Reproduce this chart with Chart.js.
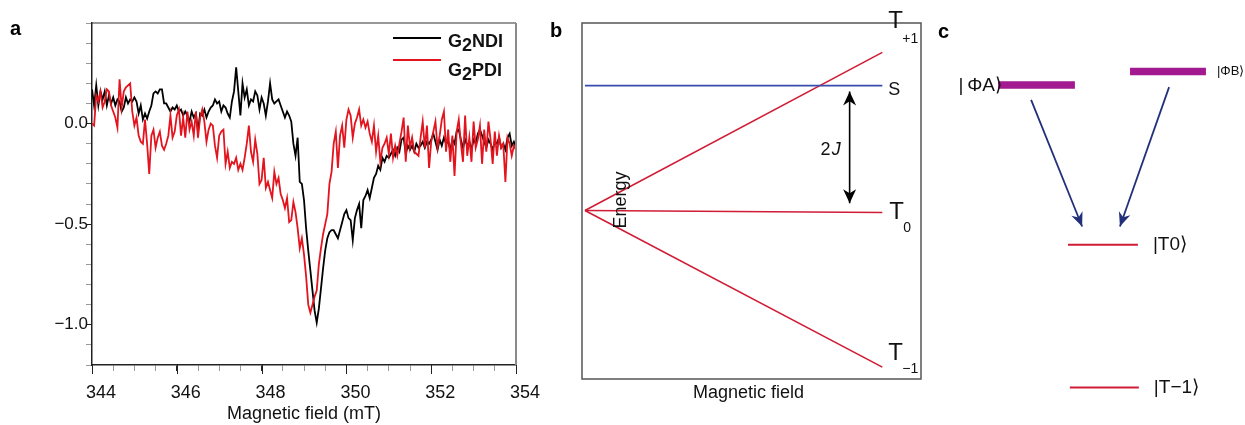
<!DOCTYPE html>
<html>
<head>
<meta charset="utf-8">
<title>EPR spectra and spin levels</title>
<script src="https://cdn.jsdelivr.net/npm/chart.js@4.4.1/dist/chart.umd.min.js"></script>
<style>
  html, body { margin: 0; padding: 0; background: #fff; }
  #wrap { position: relative; width: 1245px; height: 425px; overflow: hidden; }
  canvas { position: absolute; top: 0; }
  #chartA { left: 0; }
  #chartB { left: 540px; }
  #chartC { left: 930px; }
</style>
</head>
<body>
<div id="wrap">
  <canvas id="chartA" width="560" height="425"></canvas>
  <canvas id="chartB" width="390" height="425"></canvas>
  <canvas id="chartC" width="315" height="425"></canvas>
</div>
<script>
const FONT = "'Liberation Sans', Arial, sans-serif";

// ---- panel a : EPR spectra (field grid 344 .. 354 mT, 0.05 mT step)
const fieldStart = 344;
const fieldStep = 0.05;
const seriesNames = ['G2NDI', 'G2PDI'];

const ndiSignal = [
  0.17, 0.09, 0.19, 0.09, 0.16, 0.12, 0.16, 0.09, 0.14, 0.10, 0.13, 0.09, 0.12, 0.11, 0.06, 0.08, 0.13, 0.10, 0.12, 0.11,
  0.13, 0.11, 0.05, 0.09, 0.02, 0.05, 0.025, 0.06, 0.09, 0.15, 0.16, 0.15, 0.17, 0.17, 0.10, 0.10, 0.08, 0.06, 0.08, 0.07,
  0.09, 0.06, 0.07, 0.04, 0.06, 0.04, 0.01, 0.06, 0.03, 0.05, -0.04, 0.05, 0.04, 0.07, 0.03, 0.06, 0.08, 0.09, 0.12, 0.10,
  0.11, 0.06, 0.09, 0.08, 0.05, 0.03, 0.11, 0.16, 0.28, 0.16, 0.04, 0.20, 0.13, 0.17, 0.09, 0.12, 0.11, 0.16, 0.14, 0.07,
  0.13, 0.10, 0.04, 0.11, 0.20, 0.12, 0.10, 0.11, 0.12, 0.09, 0.06, 0.03, 0.06, 0.04, 0.01, -0.10, -0.16, -0.07, -0.29, -0.30,
  -0.38, -0.52, -0.63, -0.73, -0.83, -0.93, -0.99, -0.92, -0.82, -0.72, -0.63, -0.57, -0.54, -0.53, -0.53, -0.55, -0.57, -0.53, -0.49, -0.45,
  -0.43, -0.47, -0.48, -0.58, -0.47, -0.43, -0.40, -0.52, -0.38, -0.36, -0.33, -0.37, -0.32, -0.27, -0.25, -0.21, -0.23, -0.17, -0.19, -0.16,
  -0.17, -0.15, -0.13, -0.16, -0.12, -0.14, -0.08, -0.07, -0.15, -0.11, -0.13, -0.11, -0.14, -0.10, -0.12, -0.11, -0.09, -0.12, -0.09, -0.10,
  -0.08, -0.05, -0.09, -0.13, -0.08, -0.11, -0.07, -0.10, -0.09, -0.13, -0.08, -0.10, -0.04, -0.03, -0.08, -0.12, -0.08, -0.11, -0.09, -0.13,
  -0.08, -0.10, -0.05, -0.03, -0.06, -0.09, -0.12, -0.08, -0.10, -0.13, -0.09, -0.10, -0.07, -0.12, -0.10, -0.13, -0.07, -0.05, -0.11, -0.09,
  -0.12
];

const pdiSignal = [
  0.00, -0.01, 0.14, 0.11, 0.16, 0.08, 0.11, 0.17, 0.16, 0.09, 0.06, 0.03, -0.02, 0.22, 0.08, 0.16, 0.18, 0.19, 0.20, 0.06,
  -0.01, 0.03, -0.06, -0.09, -0.10, 0.02, -0.10, -0.25, -0.06, -0.03, -0.12, -0.07, -0.04, -0.11, -0.13, -0.10, -0.06, 0.04, -0.07, -0.04,
  0.04, 0.07, -0.06, 0.03, -0.07, 0.06, -0.03, 0.01, -0.06, 0.06, -0.07, 0.03, 0.07, 0.01, -0.09, -0.03, 0.00, -0.01, -0.11, -0.17,
  -0.06, -0.04, -0.03, -0.20, -0.14, -0.22, -0.19, -0.20, -0.17, -0.23, -0.20, -0.23, -0.17, -0.10, -0.01, -0.14, -0.19, -0.08, -0.15, -0.30,
  -0.28, -0.17, -0.32, -0.29, -0.33, -0.37, -0.24, -0.30, -0.27, -0.35, -0.38, -0.42, -0.37, -0.49, -0.48, -0.39, -0.44, -0.52, -0.62, -0.57,
  -0.65, -0.76, -0.90, -0.94, -0.90, -0.86, -0.83, -0.70, -0.62, -0.55, -0.50, -0.45, -0.30, -0.24, -0.10, -0.04, -0.22, -0.06, -0.01, -0.12,
  0.02, 0.07, 0.04, -0.07, 0.00, 0.03, 0.07, -0.01, 0.02, -0.02, 0.01, -0.05, -0.09, -0.01, -0.14, -0.06, -0.19, -0.12, -0.10, -0.07,
  -0.15, -0.05, -0.17, -0.11, -0.16, -0.10, -0.04, 0.03, -0.19, -0.01, -0.12, -0.07, -0.14, -0.15, -0.16, -0.07, 0.01, -0.12, -0.01, -0.22,
  -0.09, -0.04, 0.01, -0.12, -0.06, 0.02, 0.06, -0.14, -0.03, -0.19, -0.06, -0.26, -0.04, 0.02, -0.10, -0.19, 0.04, -0.16, -0.07, -0.19,
  0.01, -0.12, -0.08, -0.01, -0.20, -0.03, -0.14, 0.01, -0.08, -0.20, -0.04, -0.16, -0.06, -0.12, -0.10, -0.29, -0.07, -0.10, -0.16, -0.11,
  -0.13
];

// ---- panel b : Zeeman levels vs field (field 0..1, energy in units of the T+1 end)
const levelField = [0, 1];
const levelTplus = [0, 1.0];
const levelT0 = [0, -0.012];
const levelTminus = [0, -0.99];
const levelS = [0.79, 0.79];
const gapField = [0.89, 0.89];
const gapEnergy = [0.753, 0.047];

// ---- panel c : state diagram (arbitrary 0..100 units)
const stateNames = ['|\u2009\u03A6A\u27E9', '|\u03A6B\u27E9', '|T0\u27E9', '|T\u22121\u27E9'];
const stateEnergy = [80, 83.2, 42.4, 8.8];
const stateFrom = [21.6, 63.5, 43.8, 44.4];
const stateTo = [46, 87.6, 66, 66.3];
const hopStartX = [32.1, 75.9];
const hopStartY = [76.5, 79.5];
const hopEndX = [48.3, 60.3];
const hopEndY = [46.7, 46.7];

const RED_A = '#e3141e';
const RED_B = '#d01c35';
const BLUE_B = '#3a4cae';
const MAGENTA = '#a3198f';
const NAVY = '#22307a';

function toPoints(arr){
  return arr.map((v, i) => ({ x: +(fieldStart + i * fieldStep).toFixed(2), y: v }));
}

function pairPoints(xs, ys){
  return xs.map((x, i) => ({ x: x, y: ys[i] }));
}

// arrow head with a small notch, tip at "to"
function drawHead(ctx, from, to, len, half){
  const ang = Math.atan2(to.y - from.y, to.x - from.x);
  const c = Math.cos(ang), s = Math.sin(ang);
  const bx = to.x - len * c, by = to.y - len * s;
  ctx.beginPath();
  ctx.moveTo(to.x, to.y);
  ctx.lineTo(bx + half * s, by - half * c);
  ctx.lineTo(to.x - len * 0.7 * c, to.y - len * 0.7 * s);
  ctx.lineTo(bx - half * s, by + half * c);
  ctx.closePath();
  ctx.fill();
}

const arrowHeads = {
  id: 'arrowHeads',
  afterDatasetsDraw(chart){
    const ctx = chart.ctx;
    chart.data.datasets.forEach((ds, i) => {
      if (!ds.arrow) return;
      const pts = chart.getDatasetMeta(i).data;
      const a = pts[0], b = pts[pts.length - 1];
      ctx.save();
      ctx.fillStyle = ds.borderColor;
      drawHead(ctx, a, b, ds.arrow.len, ds.arrow.half);
      if (ds.arrow.both) drawHead(ctx, b, a, ds.arrow.len, ds.arrow.half);
      ctx.restore();
    });
  }
};

// text with one lowered digit, e.g. G2NDI
function drawSubName(ctx, name, x, y, drop){
  const m = name.match(/^(\D+)(\d)(.*)$/);
  const parts = m ? [[m[1], 0], [m[2], drop], [m[3], 0]] : [[name, 0]];
  let cx = x;
  parts.forEach(([t, dy]) => {
    ctx.fillText(t, cx, y + dy);
    cx += ctx.measureText(t).width;
  });
}

const panelAExtras = {
  id: 'panelAExtras',
  afterDraw(chart){
    const { ctx, chartArea: a } = chart;
    ctx.save();
    // top and right frame
    ctx.strokeStyle = '#333';
    ctx.lineWidth = 1.2;
    ctx.beginPath();
    ctx.moveTo(a.left, a.top);
    ctx.lineTo(a.right, a.top);
    ctx.stroke();
    ctx.strokeStyle = '#8a8a8a';
    ctx.lineWidth = 2;
    ctx.beginPath();
    ctx.moveTo(a.right, a.top);
    ctx.lineTo(a.right, a.bottom);
    ctx.stroke();

    // labelled field ticks are a bit longer
    const xs = chart.scales.x;
    ctx.strokeStyle = '#222';
    ctx.lineWidth = 1;
    xs.ticks.forEach((t, i) => {
      if (t.label === '') return;
      const px = Math.round(xs.getPixelForTick(i)) + 0.5;
      ctx.beginPath();
      ctx.moveTo(px, a.bottom);
      ctx.lineTo(px, a.bottom + 9);
      ctx.stroke();
    });

    ctx.fillStyle = '#000';
    ctx.textAlign = 'left';
    ctx.textBaseline = 'alphabetic';
    ctx.font = 'bold 20px ' + FONT;
    ctx.fillText('a', 10, 35);

    // legend
    const rows = [
      { name: seriesNames[0], color: '#000', lineY: 38, textY: 47 },
      { name: seriesNames[1], color: RED_A, lineY: 60, textY: 76 }
    ];
    ctx.font = 'bold 18px ' + FONT;
    rows.forEach(r => {
      ctx.strokeStyle = r.color;
      ctx.lineWidth = 1.8;
      ctx.beginPath();
      ctx.moveTo(a.right - 123, r.lineY);
      ctx.lineTo(a.right - 75, r.lineY);
      ctx.stroke();
      ctx.fillStyle = '#111';
      drawSubName(ctx, r.name, a.right - 68, r.textY, 4);
    });
    ctx.restore();
  }
};

const onTick = (ctx) => (ctx.tick && ctx.tick.label !== '' ? '#222' : '#999');

new Chart(document.getElementById('chartA'), {
  type: 'line',
  data: {
    datasets: [
      { label: seriesNames[1], data: toPoints(pdiSignal), borderColor: RED_A, borderWidth: 1.8, pointRadius: 0, tension: 0 },
      { label: seriesNames[0], data: toPoints(ndiSignal), borderColor: '#000', borderWidth: 1.8, pointRadius: 0, tension: 0 }
    ]
  },
  options: {
    responsive: false,
    animation: false,
    layout: { padding: { top: 23, right: 44, left: 0, bottom: 0 } },
    plugins: { legend: { display: false }, tooltip: { enabled: false } },
    scales: {
      x: {
        type: 'linear', min: 344, max: 354,
        afterFit: (s) => { s.height = 60; },
        ticks: {
          stepSize: 0.5, autoSkip: false, maxRotation: 0, labelOffset: 9, padding: 11,
          color: '#111', font: { family: FONT, size: 18 },
          callback: (v) => {
            const r = Math.round(v * 10) / 10;
            return Math.abs(r % 2) < 1e-6 ? r.toFixed(0) : '';
          }
        },
        grid: { drawOnChartArea: false, tickLength: 6, color: onTick },
        border: { color: '#222', width: 1.5 },
        title: { display: true, text: 'Magnetic field (mT)', padding: 0, color: '#111', font: { family: FONT, size: 18 } }
      },
      y: {
        min: -1.2, max: 0.5,
        afterFit: (s) => { s.width = 92; },
        ticks: {
          stepSize: 0.1, autoSkip: false, padding: -2,
          color: '#111', font: { family: FONT, size: 17 },
          callback: (v) => {
            const r = Math.round(v * 10) / 10;
            if (r > 0.01 || Math.abs(r * 2 - Math.round(r * 2)) > 1e-6) return '';
            return r.toFixed(1).replace('-', '\u2212');
          }
        },
        grid: { drawOnChartArea: false, tickLength: 6, color: onTick },
        border: { color: '#222', width: 1.5 }
      }
    }
  },
  plugins: [panelAExtras]
});

// ---- panel b
const panelBExtras = {
  id: 'panelBExtras',
  beforeDatasetsDraw(chart){
    const { ctx, chartArea: a } = chart;
    ctx.save();
    ctx.strokeStyle = '#555';
    ctx.lineWidth = 1.5;
    ctx.strokeRect(a.left, a.top, a.right - a.left, a.bottom - a.top);
    ctx.restore();
  },
  afterDraw(chart){
    const { ctx, chartArea: a } = chart;
    const xs = chart.scales.x, ys = chart.scales.y;
    const xEnd = xs.getPixelForValue(levelField[1]);
    ctx.save();
    ctx.fillStyle = '#000';
    ctx.textAlign = 'left';
    ctx.textBaseline = 'alphabetic';
    ctx.font = 'bold 20px ' + FONT;
    ctx.fillText('b', 10, 37);

    ctx.fillStyle = '#111';
    const yTp = ys.getPixelForValue(levelTplus[1]);
    const yS = ys.getPixelForValue(levelS[1]);
    const yT0 = ys.getPixelForValue(levelT0[1]);
    const yTm = ys.getPixelForValue(levelTminus[1]);

    ctx.font = '24px ' + FONT;
    ctx.fillText('T', xEnd + 6, yTp - 24);
    ctx.fillText('T', xEnd + 7, yT0 + 7);
    ctx.fillText('T', xEnd + 6, yTm - 7);
    ctx.font = '14px ' + FONT;
    ctx.fillText('+1', xEnd + 20, yTp - 9);
    ctx.fillText('0', xEnd + 21, yT0 + 20);
    ctx.fillText('\u22121', xEnd + 20, yTm + 6);
    ctx.font = '18px ' + FONT;
    ctx.fillText('S', xEnd + 6, yS + 9);

    // 2J next to the gap arrow
    const gx = xs.getPixelForValue(gapField[0]);
    const gy = (ys.getPixelForValue(gapEnergy[0]) + ys.getPixelForValue(gapEnergy[1])) / 2;
    ctx.textAlign = 'right';
    ctx.font = 'italic 18px ' + FONT;
    const jw = ctx.measureText('J').width;
    ctx.fillText('J', gx - 9, gy + 8);
    ctx.font = '18px ' + FONT;
    ctx.fillText('2', gx - 10 - jw, gy + 8);

    // axis captions
    ctx.textAlign = 'center';
    ctx.textBaseline = 'middle';
    ctx.fillText('Magnetic field', (a.left + a.right) / 2 - 3, a.bottom + 14);
    ctx.save();
    ctx.translate(a.left + 39, a.top + 177);
    ctx.rotate(-Math.PI / 2);
    ctx.fillText('Energy', 0, 0);
    ctx.restore();
    ctx.restore();
  }
};

const lineStyle = (color) => ({ borderColor: color, borderWidth: 1.6, pointRadius: 0, tension: 0, fill: false });

new Chart(document.getElementById('chartB'), {
  type: 'line',
  data: {
    datasets: [
      Object.assign({ label: 'S', data: pairPoints(levelField, levelS) }, lineStyle(BLUE_B)),
      Object.assign({ label: 'T+1', data: pairPoints(levelField, levelTplus) }, lineStyle(RED_B)),
      Object.assign({ label: 'T0', data: pairPoints(levelField, levelT0) }, lineStyle(RED_B)),
      Object.assign({ label: 'T-1', data: pairPoints(levelField, levelTminus) }, lineStyle(RED_B)),
      Object.assign({ label: '2J', data: pairPoints(gapField, gapEnergy), arrow: { len: 14, half: 6.5, both: true } }, lineStyle('#000'))
    ]
  },
  options: {
    responsive: false,
    animation: false,
    layout: { padding: { left: 42, right: 9, top: 23, bottom: 46 } },
    plugins: { legend: { display: false }, tooltip: { enabled: false } },
    scales: {
      x: { type: 'linear', display: false, min: -0.01, max: 1.13 },
      y: { display: false, min: -1.065, max: 1.186 }
    }
  },
  plugins: [panelBExtras, arrowHeads]
});

// ---- panel c
const panelCExtras = {
  id: 'panelCExtras',
  afterDraw(chart){
    const ctx = chart.ctx;
    const xs = chart.scales.x, ys = chart.scales.y;
    ctx.save();
    ctx.fillStyle = '#000';
    ctx.textAlign = 'left';
    ctx.textBaseline = 'alphabetic';
    ctx.font = 'bold 20px ' + FONT;
    ctx.fillText('c', 8, 38);

    ctx.fillStyle = '#111';
    ctx.textBaseline = 'middle';
    stateNames.forEach((name, i) => {
      const y = ys.getPixelForValue(stateEnergy[i]);
      if (i === 0) {
        ctx.font = '19px ' + FONT;
        ctx.textAlign = 'right';
        ctx.fillText(name, xs.getPixelForValue(stateFrom[i]) + 4, y + 1);
      } else if (i === 1) {
        ctx.font = '13px ' + FONT;
        ctx.textAlign = 'left';
        ctx.fillText(name, xs.getPixelForValue(stateTo[i]) + 11, y);
      } else {
        ctx.font = '19px ' + FONT;
        ctx.textAlign = 'left';
        ctx.fillText(name, xs.getPixelForValue(stateTo[i]) + 15, y);
      }
    });
    ctx.restore();
  }
};

const stateSets = stateNames.map((name, i) => ({
  label: name,
  data: [{ x: stateFrom[i], y: stateEnergy[i] }, { x: stateTo[i], y: stateEnergy[i] }],
  borderColor: i < 2 ? MAGENTA : RED_B,
  borderWidth: i < 2 ? 7.5 : 2,
  borderCapStyle: 'butt',
  pointRadius: 0,
  tension: 0
}));

const hopSets = hopStartX.map((x, i) => ({
  label: 'hop' + i,
  data: [{ x: x, y: hopStartY[i] }, { x: hopEndX[i], y: hopEndY[i] }],
  borderColor: NAVY,
  borderWidth: 1.8,
  pointRadius: 0,
  tension: 0,
  arrow: { len: 14, half: 6, both: false }
}));

new Chart(document.getElementById('chartC'), {
  type: 'line',
  data: { datasets: stateSets.concat(hopSets) },
  options: {
    responsive: false,
    animation: false,
    layout: { padding: 0 },
    plugins: { legend: { display: false }, tooltip: { enabled: false } },
    scales: {
      x: { type: 'linear', display: false, min: 0, max: 100 },
      y: { display: false, min: 0, max: 100 }
    }
  },
  plugins: [panelCExtras, arrowHeads]
});
</script>
</body>
</html>
